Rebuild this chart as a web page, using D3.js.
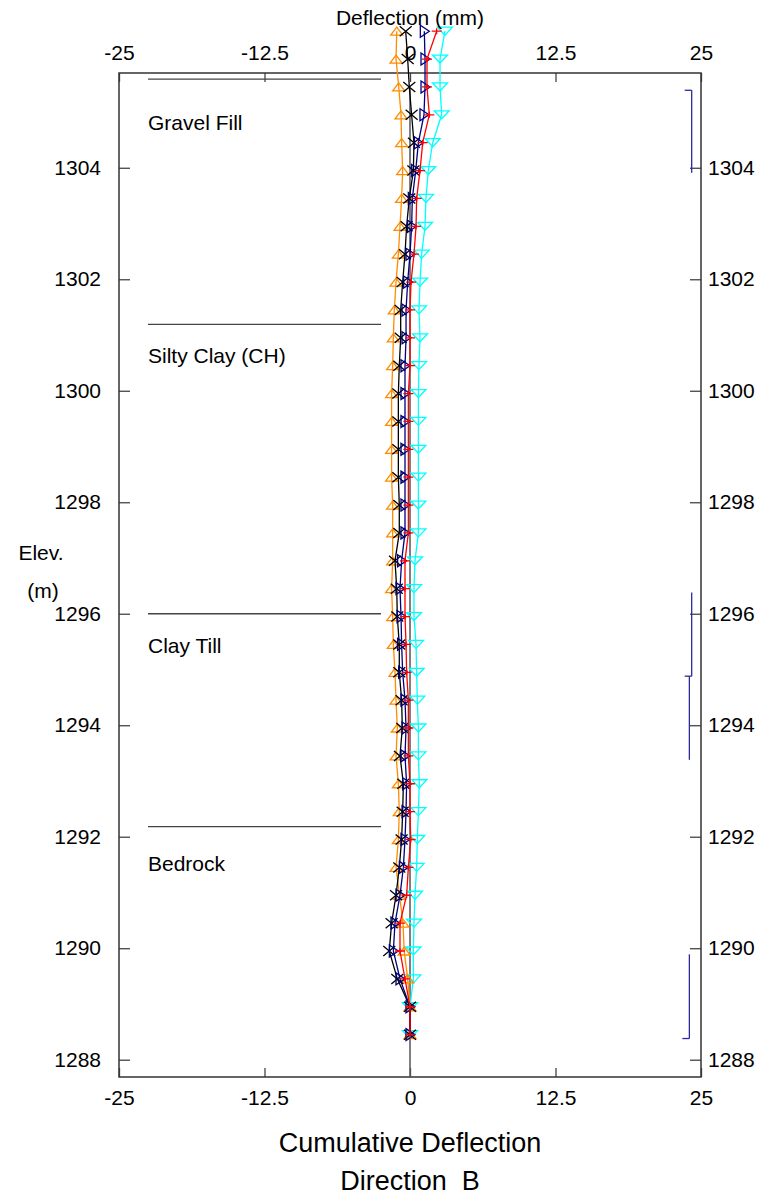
<!DOCTYPE html>
<html><head><meta charset="utf-8">
<script src="https://cdn.jsdelivr.net/npm/d3@7"></script>
<style>body{margin:0;background:#fff}svg{display:block}text{font-family:"Liberation Sans",Arial,sans-serif;fill:#000}</style>
</head><body>
<svg id="c" width="779" height="1198"></svg>
<script>
// ---- data ----
const elevations = [1306.45,1305.95,1305.45,1304.95,1304.45,1303.95,1303.45,1302.95,1302.45,1301.95,1301.45,1300.95,1300.45,1299.95,1299.45,1298.95,1298.45,1297.95,1297.45,1296.95,1296.45,1295.95,1295.45,1294.95,1294.45,1293.95,1293.45,1292.95,1292.45,1291.95,1291.45,1290.95,1290.45,1289.95,1289.45,1288.95,1288.45];
const seriesOrange = [-1.14,-1.2,-0.97,-0.77,-0.72,-0.63,-0.72,-0.86,-1.0,-1.2,-1.35,-1.43,-1.49,-1.58,-1.58,-1.58,-1.58,-1.49,-1.49,-1.49,-1.58,-1.49,-1.43,-1.29,-1.2,-1.09,-1.2,-1.0,-0.92,-1.0,-1.2,-0.9,-0.6,-0.5,-0.2,0,0];
const seriesBlack = [-0.37,-0.2,-0.06,0.14,0.34,0.29,-0.06,-0.29,-0.43,-0.63,-0.8,-0.8,-0.92,-1.0,-1.0,-1.0,-1.0,-0.92,-0.92,-1.29,-1.14,-1.09,-0.92,-0.92,-0.72,-0.66,-0.86,-0.57,-0.63,-0.72,-0.92,-1.2,-1.58,-1.78,-1.09,0,0];
const seriesNavy = [1.23,1.29,1.29,1.2,0.72,0.49,0.2,0.14,0,-0.2,-0.34,-0.34,-0.43,-0.43,-0.43,-0.43,-0.43,-0.43,-0.43,-0.72,-0.86,-0.77,-0.72,-0.63,-0.43,-0.34,-0.43,-0.29,-0.34,-0.43,-0.57,-0.86,-1.29,-1.43,-0.86,0,0];
const seriesRed = [2.29,1.46,1.46,1.66,1.09,0.86,0.57,0.52,0.34,0.09,0,0,0,-0.14,-0.14,-0.14,-0.14,-0.14,-0.14,-0.43,-0.43,-0.43,-0.34,-0.29,-0.14,-0.14,-0.14,0,0,0.06,-0.14,-0.29,-0.86,-0.86,-0.43,0,0];
const seriesCyan = [3.0,2.58,2.58,2.72,1.95,1.57,1.37,1.29,1.0,0.86,0.77,0.86,0.77,0.72,0.72,0.72,0.72,0.72,0.72,0.43,0.34,0.34,0.52,0.57,0.63,0.72,0.72,0.8,0.72,0.63,0.57,0.43,0.34,0.29,0.29,0,0];
const xTicks = [-25,-12.5,0,12.5,25];
const yTicks = [1288,1290,1292,1294,1296,1298,1300,1302,1304];
const layerNames = ["Gravel Fill","Silty Clay (CH)","Clay Till","Bedrock"];
const layerTops = [1305.59,1301.19,1296.0,1292.18];
const layerLabelElev = [1304.81,1300.63,1295.42,1291.51];
const bracketX = [24.2,24.2,24.0,24.0];
const bracketTop = [1305.39,1296.38,1294.88,1289.89];
const bracketBottom = [1303.91,1294.88,1293.38,1288.38];
const bracketTickAt = ["top","bottom","none","bottom"];

// ---- layout ----
const L=119,R=701,T=73,B=1077;
const svg=d3.select("#c");
const x=d3.scaleLinear().domain([-25,25]).range([L,R]);
const y=d3.scaleLinear().domain([1287.69,1305.70]).range([B,T]);
const FS=21;

// axes
const gT=svg.append("g").attr("transform",`translate(0,${T})`).call(d3.axisTop(x).tickValues(xTicks).tickFormat(d=>d).tickSize(-9).tickPadding(13));
const gB=svg.append("g").attr("transform",`translate(0,${B})`).call(d3.axisBottom(x).tickValues(xTicks).tickFormat(d=>d).tickSize(-9).tickPadding(13));
const gL=svg.append("g").attr("transform",`translate(${L},0)`).call(d3.axisLeft(y).tickValues(yTicks).tickFormat(d=>d).tickSize(-11).tickPadding(18));
const gR=svg.append("g").attr("transform",`translate(${R},0)`).call(d3.axisRight(y).tickValues(yTicks).tickFormat(d=>d).tickSize(-11).tickPadding(7));
[gT,gB,gL,gR].forEach(g=>{g.select(".domain").remove();g.selectAll("line").attr("stroke","#444").attr("stroke-width",1.3);g.selectAll("text").attr("font-size",FS).attr("font-family","Liberation Sans, Arial, sans-serif").attr("fill","#000");});

// frame
svg.append("rect").attr("x",L).attr("y",T).attr("width",R-L).attr("height",B-T).attr("fill","none").attr("stroke","#333").attr("stroke-width",1.5);

// layer lines + labels
layerTops.forEach((e,i)=>{
  svg.append("line").attr("x1",148).attr("x2",381).attr("y1",y(e)).attr("y2",y(e)).attr("stroke","#444").attr("stroke-width",1.3);
  svg.append("text").attr("x",148).attr("y",y(layerLabelElev[i])).attr("dy","0.35em").attr("font-size",FS).text(layerNames[i]);
});

// zero line
svg.append("line").attr("x1",x(0)).attr("x2",x(0)).attr("y1",T+15).attr("y2",B).attr("stroke","#555").attr("stroke-width",1.5);

// brackets
bracketX.forEach((bx,i)=>{
  const px=x(bx);
  svg.append("line").attr("x1",px).attr("x2",px).attr("y1",y(bracketTop[i])).attr("y2",y(bracketBottom[i])).attr("stroke","#2a2a9e").attr("stroke-width",1.3);
  if(bracketTickAt[i]!=="none"){
    const ty=bracketTickAt[i]==="top"?y(bracketTop[i]):y(bracketBottom[i]);
    svg.append("line").attr("x1",px-7).attr("x2",px).attr("y1",ty).attr("y2",ty).attr("stroke","#2a2a9e").attr("stroke-width",1.3);
  }
});

// series
const markers={
  up:"M0,-4L6,4L-6,4Z",
  down:"M-7.5,-4L7.5,-4L0,4Z",
  right:"M-4,-6L5,0L-4,6Z",
  x:"M-6,-5L6,5M-6,5L6,-5",
  plus:"M-5,0L5,0M0,-3L0,3"
};
const series=[
  {vals:seriesCyan,color:"#00ffff",m:"down"},
  {vals:seriesOrange,color:"#ff8c00",m:"up"},
  {vals:seriesBlack,color:"#000000",m:"x"},
  {vals:seriesNavy,color:"#000080",m:"right"},
  {vals:seriesRed,color:"#ff0000",m:"plus"}
];
const line=d3.line().x(d=>x(d[0])).y(d=>y(d[1]));
series.forEach(s=>{
  const pts=s.vals.map((v,i)=>[v,elevations[i]]);
  svg.append("path").attr("d",line(pts)).attr("fill","none").attr("stroke",s.color).attr("stroke-width",1.3);
  svg.append("g").selectAll("path").data(pts).join("path")
    .attr("transform",d=>`translate(${x(d[0])},${y(d[1])})`)
    .attr("d",markers[s.m]).attr("fill","none").attr("stroke",s.color).attr("stroke-width",1.3);
});

// titles
svg.append("text").attr("x",410).attr("y",25).attr("text-anchor","middle").attr("font-size",FS).text("Deflection (mm)");
svg.append("text").attr("x",41).attr("y",560).attr("text-anchor","middle").attr("font-size",FS).text("Elev.");
svg.append("text").attr("x",43).attr("y",598).attr("text-anchor","middle").attr("font-size",FS).text("(m)");
svg.append("text").attr("x",410).attr("y",1152).attr("text-anchor","middle").attr("font-size",27).text("Cumulative Deflection");
svg.append("text").attr("x",410).attr("y",1190).attr("text-anchor","middle").attr("font-size",27).style("white-space","pre").attr("xml:space","preserve").text("Direction  B");
</script>
</body></html>
